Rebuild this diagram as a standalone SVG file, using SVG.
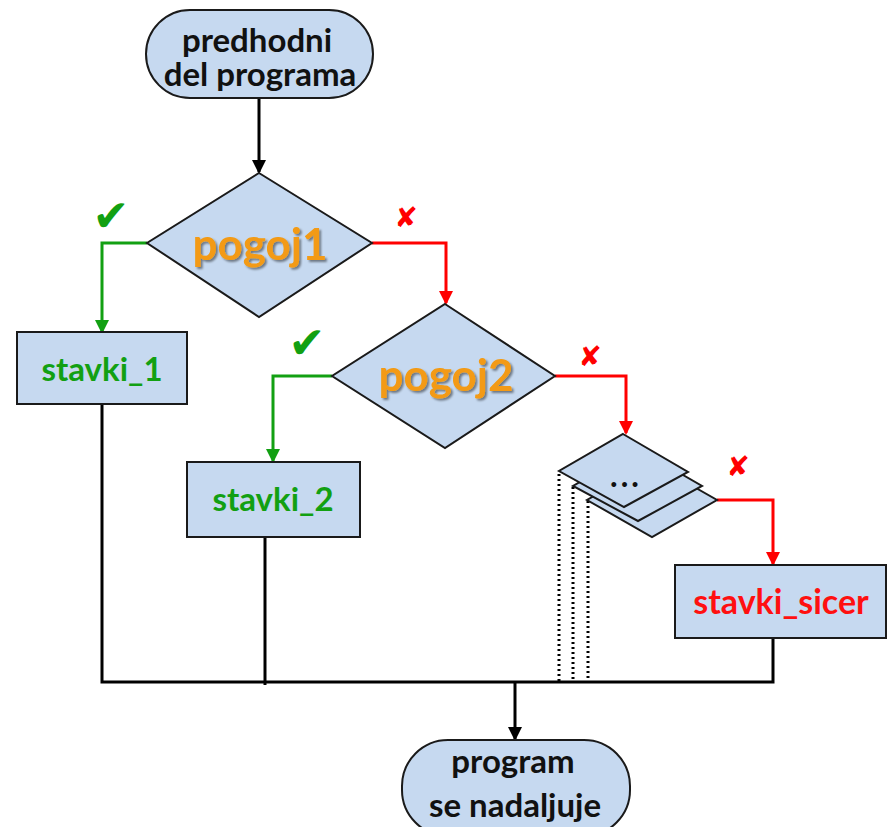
<svg xmlns="http://www.w3.org/2000/svg" width="888" height="827" viewBox="0 0 888 827">
<style>
.shape{fill:#C6D9F0;stroke:#1a1a1a;stroke-width:2}
.t{font-family:Lato,"Liberation Sans",sans-serif;font-weight:bold;text-anchor:middle}
.blk{fill:#111;font-size:33px}
.cond{fill:#F39A12;font-size:44px;filter:url(#sh)}
.g{fill:#12A012;font-size:33px}
.r{fill:#FF1010;font-size:34px}
.ln{fill:none;stroke-width:3}
.k{stroke:#000}
.gl{stroke:#12A012}
.rl{stroke:#FF0000}
.dot{fill:none;stroke:#000;stroke-width:3;stroke-dasharray:2 3}
.sym{font-family:"DejaVu Sans",sans-serif;text-anchor:middle}
</style>
<defs>
<filter id="sh" x="-10%" y="-10%" width="130%" height="140%">
<feDropShadow dx="2" dy="2" stdDeviation="1.2" flood-color="#000" flood-opacity="0.45"/>
</filter>
<marker id="ak" markerWidth="14" markerHeight="14" refX="12" refY="7" orient="auto" markerUnits="userSpaceOnUse"><path d="M0,0 L14,7 L0,14 Z" fill="#000"/></marker>
<marker id="ag" markerWidth="14" markerHeight="14" refX="12" refY="7" orient="auto" markerUnits="userSpaceOnUse"><path d="M0,0 L14,7 L0,14 Z" fill="#12A012"/></marker>
<marker id="ar" markerWidth="14" markerHeight="14" refX="12" refY="7" orient="auto" markerUnits="userSpaceOnUse"><path d="M0,0 L14,7 L0,14 Z" fill="#FF0000"/></marker>
</defs>

<g id="connectors">
<path class="ln k" d="M259,98 V172" marker-end="url(#ak)"/>
<path class="ln gl" d="M147,243 H102 V332" marker-end="url(#ag)"/>
<path class="ln rl" d="M372,243 H446 V303" marker-end="url(#ar)"/>
<path class="ln gl" d="M332,376 H273 V461" marker-end="url(#ag)"/>
<path class="ln rl" d="M555,376 H626 V433" marker-end="url(#ar)"/>
<path class="ln rl" d="M717,500 H773 V564" marker-end="url(#ar)"/>
<path class="ln k" d="M102,404 V682 H773 V638"/>
<path class="ln k" d="M265,537 V685"/>
<path class="ln k" d="M515,682 V739" marker-end="url(#ak)"/>
<path class="dot" d="M559,474 V682"/>
<path class="dot" d="M573,487 V682"/>
<path class="dot" d="M588,501 V682"/>
</g>

<g id="marks">
<text class="sym" x="111" y="231" font-size="44" fill="#12A012">✔</text>
<text class="sym" x="406" y="227" font-size="28" fill="#FF0000">✘</text>
<text class="sym" x="307" y="358" font-size="44" fill="#12A012">✔</text>
<text class="sym" x="590" y="366" font-size="28" fill="#FF0000">✘</text>
<text class="sym" x="738" y="476" font-size="28" fill="#FF0000">✘</text>
</g>

<g id="start">
<rect class="shape" x="146" y="10" width="227" height="88" rx="44" ry="44"/>
<text class="t blk" x="257" y="52">predhodni</text>
<text class="t blk" x="260" y="86">del programa</text>
</g>

<g id="pogoj1">
<polygon class="shape" points="259,173 372,243 259,317 147,243"/>
<text class="t cond" x="260" y="260">pogoj1</text>
</g>

<g id="stavki_1">
<rect class="shape" x="17" y="332" width="170" height="72"/>
<text class="t g" x="102" y="381">stavki_1</text>
</g>

<g id="pogoj2">
<polygon class="shape" points="445,304 555,376 445,448 332,376"/>
<text class="t cond" x="446" y="391">pogoj2</text>
</g>

<g id="stavki_2">
<rect class="shape" x="187" y="462" width="173" height="75"/>
<text class="t g" x="273" y="511">stavki_2</text>
</g>

<g id="more">
<polygon class="shape" points="652,463 717,500 652,537 587,500"/>
<polygon class="shape" points="638,449 702,486 638,521 573,486"/>
<polygon class="shape" points="623,434 688,472 624,507 559,471"/>
<text class="t" x="626" y="487" font-size="32" letter-spacing="3" fill="#111">...</text>
</g>

<g id="stavki_sicer">
<rect class="shape" x="675" y="565" width="211" height="73"/>
<text class="t r" x="781" y="614">stavki_sicer</text>
</g>

<g id="end">
<rect class="shape" x="402" y="740" width="228" height="96" rx="46" ry="46"/>
<text class="t blk" x="513" y="773">program</text>
<text class="t blk" x="515" y="817">se nadaljuje</text>
</g>
</svg>
